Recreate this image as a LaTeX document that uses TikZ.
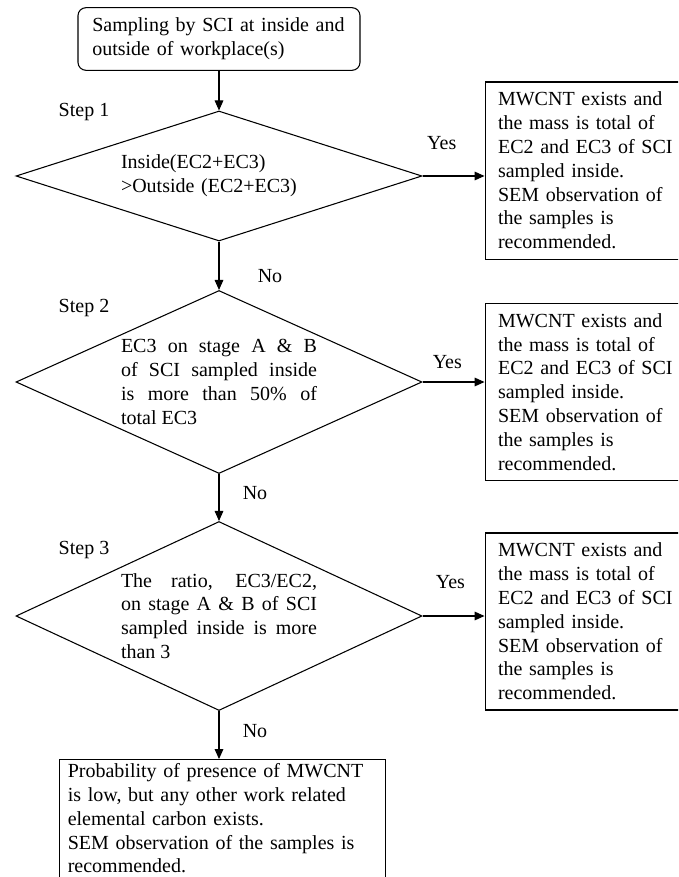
\documentclass[tikz,border=0pt]{standalone}
\usepackage{fontspec}
\setmainfont{Liberation Serif}
\usetikzlibrary{shapes.geometric,arrows.meta,positioning}

\newcommand{\yesnote}{MWCNT exists and\\ the mass is total of\\ EC2 and EC3 of SCI\\ sampled inside.\\ SEM observation of\\ the samples is\\ recommended.}

\begin{document}
\begin{tikzpicture}[x=0.75pt, y=-0.75pt, on grid, line width=0.8pt,
        every node/.style={font=\fontsize{15}{17.85}\selectfont},
        >={Triangle[length=7.5pt, width=6.5pt]},
        start/.style={draw, rounded corners=6pt, align=left, text width=190pt,
                      minimum width=211.5pt, minimum height=47pt},
        decision/.style={draw, diamond, aspect=2.3, inner sep=0pt,
                         text width=147pt, minimum width=304.5pt},
        outcome/.style={draw, align=left, text width=150pt, inner xsep=9.75pt,
                        minimum height=132.75pt},
        lbl/.style={inner sep=0pt}]
                \useasboundingbox (0,0) rectangle (678,877);
                \clip (0,0) rectangle (678,877);

                \node[start] (0) at (219,39) {Sampling by SCI at inside and\\ outside of workplace(s)};
                \node[decision, align=left, below=102.75pt of 0, minimum height=97.5pt] (1)
                    {Inside(EC2+EC3)\\ >Outside (EC2+EC3)};
                \node[decision, align=justify, below=154.5pt of 1, minimum height=137.25pt] (2)
                    {EC3 on stage A \& B\linebreak of SCI sampled inside\linebreak is more than 50\% of\linebreak total EC3};
                \node[decision, align=justify, below=175.5pt of 2, minimum height=141.75pt] (3)
                    {The ratio, EC3/EC2,\linebreak on stage A \& B of SCI\linebreak sampled inside is more\linebreak than 3};
                \node[draw, align=left, text width=232pt, inner xsep=6.5pt, inner ysep=3pt,
                      on grid=false, below=36pt of 3, xshift=2.6pt] (4)
                    {Probability of presence of MWCNT\\ is low, but any other work related\\ elemental carbon exists.\\ SEM observation of the samples is\\ recommended.};

                \node[outcome, on grid=false, right=46.5pt of 1, yshift=4.1pt] (5) {\yesnote};
                \node[outcome, on grid=false, right=46.5pt of 2, yshift=-7.5pt] (6) {\yesnote};
                \node[outcome, on grid=false, right=46.5pt of 3, yshift=-4.1pt] (7) {\yesnote};

                \node[above left=48pt and 101.25pt of 1] (st1) {Step 1};
                \node[above left=55.5pt and 101.25pt of 2] (st2) {Step 2};
                \node[above left=49.5pt and 101.25pt of 3] (st3) {Step 3};

                \path[->] (0) edge (1);
                \path[->] (1) edge node[lbl, pos=0.71, xshift=38.25pt] {No} (2);
                \path[->] (2) edge node[lbl, pos=0.4, xshift=27pt] {No} (3);
                \path[->] (3) edge node[lbl, pos=0.42, xshift=27pt] {No} (3.south |- 4.north);
                \path[->] (1) edge node[lbl, pos=0.31, yshift=24.75pt] {Yes} (1.east -| 5.west);
                \path[->] (2) edge node[lbl, pos=0.4, yshift=15pt] {Yes} (2.east -| 6.west);
                \path[->] (3) edge node[lbl, pos=0.45, yshift=25.5pt] {Yes} (3.east -| 7.west);
            \end{tikzpicture}
\end{document}
